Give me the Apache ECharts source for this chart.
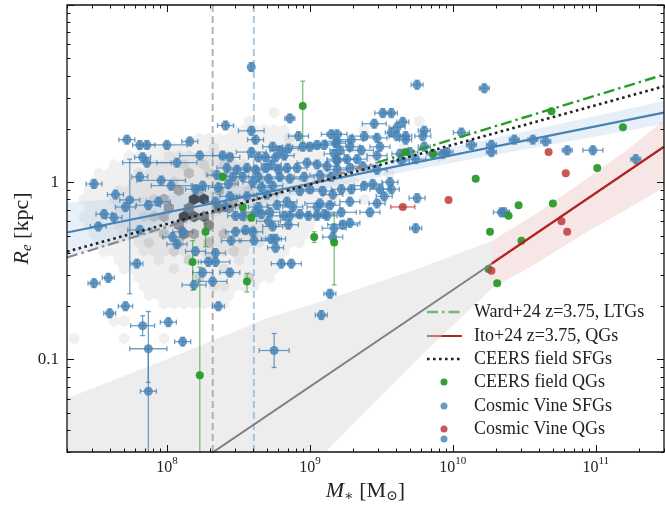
<!DOCTYPE html>
<html><head><meta charset="utf-8">
<script src="https://cdn.jsdelivr.net/npm/echarts@6.0.0/dist/echarts.min.js"></script>
<style>html,body{margin:0;padding:0;background:#fff;}#chart{width:665px;height:506px;}</style>
</head><body><div id="chart"></div>
<script>
const SERIF = '"Liberation Serif", "DejaVu Serif", serif';
// axis limits and tick labels
const xRange = [2e7, 3e11];
const yRange = [0.03, 10];
const xTickExponents = [8, 9, 10, 11];
const yTickLabels = [[0.1, '0.1'], [1, '1']];

// Cosmic Vine SFGs: [log M*, log Re, xErr(dex), yErrLo, yErrHi]
const blueSFG = [
[8.59,0.65,0],[8.86,0.36,0.035],[8.41,0.32,0.056],[8.59,0.29,0.09],[8.62,0.24,0.056],[8.92,0.26,0.07],[9.15,0.27,0.07],
[7.72,0.24,0.056],[7.81,0.21,0.05],[7.86,0.21,0.056],[8.0,0.21,0.14],[8.16,0.23,0.056],[7.83,0.14,0.056],[7.86,0.11,0.17],
[8.07,0.11,0.14],[8.23,0.15,0.14],[7.49,-0.01,0.056],[7.64,-0.07,0.056],[7.81,0.03,0.056],[7.96,0.01,0.17],
[7.74,-0.10,0.07,0.53,0.23],[7.71,-0.14,0.07],[7.87,-0.13,0.084],[7.94,-0.11,0.084],[8.03,-0.02,0.14],[7.56,-0.18,0.056],
[7.63,-0.20,0.056],[7.52,-0.25,0.056],[7.81,-0.27,0.084],[8.04,-0.31,0.07],[8.11,-0.28,0.07],[8.07,-0.35,0.07],[8.20,-0.39,0.07],
[8.29,-0.45,0.07],[7.79,-0.46,0.042],[7.59,-0.54,0.042],[7.49,-0.57,0.042],[7.71,-0.70,0.05],[7.60,-0.74,0.042],
[7.83,-0.81,0.084,0.056,0.056],[7.87,-0.94,0.13,0.19,0.21],[7.87,-1.18,0.056,0.4,0.24],[8.01,-0.79,0.056],[8.11,-0.90,0.056],
[8.19,-0.58,0.084],[8.25,-0.51,0.07],[8.34,-0.45,0.1],[8.32,-0.56,0.1],[8.34,-0.40,0.07],[8.44,-0.51,0.07],[8.36,-0.70,0.042],
[8.80,-0.46,0.07],[8.87,-0.46,0.07],[8.75,-0.95,0.105,0.096,0.096],[9.08,-0.75,0.042],[9.14,-0.63,0.042],[8.45,-0.33,0.07],
[8.61,-0.33,0.105],[8.73,-0.32,0.07],[8.76,-0.32,0.07],[8.76,-0.37,0.056],[8.48,-0.28,0.07],[8.55,-0.27,0.07],[8.60,-0.28,0.07],
[8.71,-0.22,0.084],[8.74,-0.25,0.07],[8.85,-0.24,0.07],[8.82,-0.19,0.084],[8.99,-0.19,0.07],[9.12,-0.19,0.07],[9.07,-0.12,0.105],
[9.17,-0.26,0.084],[8.34,-0.11,0.07],[8.41,-0.14,0.07],[8.48,-0.19,0.056],[8.53,-0.19,0.056],[8.64,-0.14,0.07],[8.66,-0.18,0.07],
[8.59,0.17,0.105],[8.74,0.20,0.07],[8.79,0.18,0.07],[8.85,0.19,0.07],[8.95,0.20,0.07],[9.00,0.20,0.07],[9.05,0.21,0.07],
[9.10,0.21,0.07],[9.18,0.22,0.07],[8.39,0.15,0.07],[8.44,0.14,0.07],[8.64,0.14,0.07],[8.69,0.14,0.07],[8.76,0.14,0.07],
[8.82,0.15,0.07],[8.42,0.08,0.07],[8.49,0.07,0.07],[8.56,0.08,0.07],[8.62,0.07,0.07],[8.69,0.08,0.07],[8.73,0.10,0.07],
[8.78,0.07,0.07],[8.84,0.08,0.07],[8.91,0.08,0.07],[8.98,0.11,0.07],[9.05,0.10,0.07],[9.12,0.09,0.07],[9.19,0.12,0.07],
[8.35,0.04,0.07],[8.46,0.03,0.07],[8.53,0.03,0.07],[8.64,0.03,0.07],[8.71,0.02,0.07],[8.79,0.03,0.07],[8.86,0.02,0.07],
[8.96,0.03,0.07],[9.07,0.04,0.07],[9.15,0.03,0.07],[8.20,-0.04,0.07],[8.25,-0.02,0.07],[8.36,-0.03,0.07],[8.43,-0.01,0.07],
[8.60,0.00,0.07],[8.66,-0.03,0.07],[8.74,-0.02,0.07],[8.93,-0.05,0.07],[9.00,-0.04,0.07],[9.09,-0.05,0.07],[9.16,-0.07,0.07],
[8.44,-0.08,0.07],[8.56,-0.08,0.07],[8.70,-0.07,0.07],[8.77,-0.13,0.07],[8.84,-0.11,0.07],[9.05,-0.14,0.07],[9.14,-0.13,0.07],
[8.88,-0.14,0.07],[8.72,-0.17,0.07],[8.62,-0.17,0.07],[8.86,-0.19,0.07],[8.93,-0.18,0.07],[9.05,-0.19,0.07],[9.10,-0.18,0.07],
[9.75,0.55,0.042],[9.51,0.39,0.056],[9.57,0.39,0.042],[9.65,0.34,0.042],[9.61,0.31,0.056],[9.57,0.28,0.042],[9.45,0.33,0.084],
[9.80,0.29,0.042],[9.79,0.26,0.056],[9.67,0.26,0.042],[9.67,0.24,0.042],[9.61,0.26,0.056],[9.47,0.25,0.07],[9.38,0.26,0.084],
[9.29,0.24,0.084],[9.19,0.23,0.084],[9.19,0.27,0.07],[9.49,0.20,0.07],[9.36,0.18,0.084],[9.28,0.20,0.07],[9.21,0.18,0.07],
[9.33,0.13,0.07],[9.26,0.13,0.07],[9.19,0.13,0.07],[9.17,0.16,0.07],[9.47,0.15,0.07],[9.63,0.16,0.056],[9.70,0.17,0.056],
[9.80,0.20,0.042],[9.86,0.16,0.042],[9.93,0.16,0.042],[9.96,0.17,0.042],[10.06,0.28,0.056],[9.74,0.13,0.07],[9.64,0.12,0.056],
[9.47,0.07,0.07],[9.37,0.09,0.07],[9.28,0.08,0.07],[9.19,0.07,0.07],[9.44,-0.01,0.07],[9.38,-0.02,0.07],[9.29,-0.04,0.07],
[9.22,-0.04,0.07],[9.49,-0.04,0.07],[9.57,-0.04,0.056],[9.56,0.00,0.056],[9.52,-0.08,0.056],[9.47,-0.12,0.056],[9.42,-0.17,0.07],
[9.22,-0.17,0.105],[9.23,-0.24,0.105],[9.28,-0.23,0.07],[9.75,-0.09,0.056],[9.74,-0.26,0.042],[9.28,-0.11,0.07],[9.16,-0.31,0.07],
[10.22,0.53,0.035],[10.13,0.21,0.035],[10.27,0.21,0.035],[10.27,0.17,0.035],[10.43,0.24,0.035],[10.56,0.24,0.035],
[10.65,0.23,0.035],[10.80,0.18,0.035],[10.98,0.18,0.07],[11.28,0.13,0.035],[10.34,-0.17,0.056],[10.36,-0.17,0.035]
];
const blueDefaultYErr = 0.025;

// CEERS field QGs: [log M*, log Re, yErrLo, yErrHi]
const greenQG = [
[8.95,0.43,0.21,0.14],[8.39,0.03,0.02,0.02],[8.59,-0.20,0.02,0.02],[8.27,-0.28,0.085,0.045],[8.18,-0.45,0.16,0.12],
[8.56,-0.56,0.06,0.045],[9.03,-0.31,0.03,0.03],[9.17,-0.34,0.24,0.16],[8.23,-1.09,0.6,0.61],[8.53,-0.14,0.02,0.02],
[9.67,0.17,0,0],[9.86,0.16,0,0],[10.69,0.40,0,0],[11.19,0.31,0,0],[11.01,0.08,0,0],[10.16,0.02,0,0],[10.46,-0.13,0,0],
[10.39,-0.19,0,0],[10.70,-0.12,0,0],[10.26,-0.28,0,0],[10.48,-0.33,0,0],[10.31,-0.57,0,0],[10.25,-0.49,0,0]
];
// Cosmic Vine QGs: [log M*, log Re, xErr]
const redQG = [
[10.67,0.17,0],[10.79,0.05,0],[9.97,-0.10,0],[9.65,-0.14,0.084],[10.76,-0.22,0],[10.80,-0.28,0],[10.27,-0.50,0]
];
// CEERS field SFG density (hexbin): individual cells [log M*, log Re, grey level 1-9]
const hexCells = [
[8.22,-0.11,9],[8.29,-0.09,9],[8.10,-0.19,9],[8.18,-0.21,8],[8.15,-0.14,7],[8.36,-0.14,7],[8.43,-0.17,6],[8.02,-0.13,6],
[8.06,-0.24,6],[8.25,-0.18,7],[8.32,-0.24,6],[8.13,-0.27,6],[8.22,-0.30,5],[7.99,-0.20,5],[7.95,-0.10,5],[8.07,-0.06,5],
[8.20,-0.04,5],[8.34,-0.03,5],[8.48,-0.09,5],[8.51,-0.18,4],[8.41,-0.30,4],[8.27,-0.35,4],[8.09,-0.35,4],[7.99,-0.30,4],
[7.92,-0.18,4],[7.88,-0.09,3],[8.02,0.00,3],[8.16,0.03,4],[8.30,0.04,3],[8.44,0.00,4],[8.58,-0.07,3],[8.58,-0.27,3],
[8.44,-0.38,3],[8.30,-0.43,3],[8.16,-0.43,3],[8.02,-0.38,3],[7.88,-0.32,3],[7.81,-0.22,3],[7.78,-0.10,2],[7.95,-0.01,2],
[8.09,0.08,3],[8.23,0.10,3],[8.37,0.10,3],[8.51,0.07,2],[8.65,0.02,2],[8.69,-0.18,2],[8.65,-0.35,2],[8.51,-0.45,2],
[8.37,-0.49,2],[8.20,-0.52,2],[8.06,-0.49,2],[7.92,-0.44,2],[7.81,-0.38,2],[7.71,-0.30,2],[7.68,-0.15,2],[7.71,-0.04,1],
[7.85,0.04,1],[7.99,0.13,2],[8.13,0.17,2],[8.30,0.18,2],[8.48,0.16,1],[8.62,0.13,1],[8.76,0.07,1],[8.79,-0.07,2],
[8.82,-0.27,1],[8.76,-0.41,1],[8.65,-0.52,1],[8.51,-0.58,1],[8.30,-0.61,2],[8.13,-0.61,1],[7.95,-0.56,1],[7.85,-0.52,1],
[7.57,-0.38,1],[7.54,-0.24,1],[7.57,-0.10,1],[7.61,0.02,1],[8.86,0.13,1],[8.93,0.24,1],[8.72,0.24,1],[8.76,0.37,1],
[8.55,0.33,1],[9.00,0.02,1],[9.07,-0.10,1],[9.21,-0.04,1],[9.35,-0.10,1],[9.28,0.18,1],[9.42,0.13,1],[9.37,0.27,1],
[9.75,0.34,1],[9.68,0.20,1],[9.90,0.16,1],[9.59,0.07,1],[7.91,-0.62,1],[7.97,-0.69,1],[7.70,-0.88,1],[8.00,-0.88,1],
[7.36,-0.89,1],[8.56,-0.55,3],[8.41,-0.57,2],[8.39,-0.66,1],[8.25,-0.55,3],[8.88,0.26,2]
];
// hexbin faint cloud, row runs: [log Re, log M* from, log M* to, grey level]
const hexRuns = [
[0.30,8.45,8.8,1],[0.25,8.2,8.95,1],[0.20,7.9,9.0,1],[0.15,7.75,9.1,1],[0.15,8.05,8.45,2],[0.10,7.65,9.2,1],[0.10,7.9,8.55,2],
[0.05,7.55,9.3,1],[0.05,7.8,8.65,2],[0.0,7.5,9.3,1],[0.0,7.75,8.7,2],[-0.05,7.45,9.3,1],[-0.05,7.7,8.75,2],[-0.10,7.45,9.2,1],
[-0.10,7.65,8.75,2],[-0.15,7.45,9.1,1],[-0.15,7.65,8.75,2],[-0.20,7.45,9.0,1],[-0.20,7.7,8.7,2],[-0.25,7.45,9.0,1],
[-0.25,7.7,8.7,2],[-0.30,7.5,8.95,1],[-0.30,7.75,8.65,2],[-0.35,7.55,8.9,1],[-0.35,7.8,8.6,2],[-0.40,7.6,8.85,1],
[-0.40,7.85,8.55,2],[-0.45,7.65,8.8,1],[-0.50,7.7,8.75,1],[-0.55,7.8,8.7,1],[-0.60,7.85,8.6,1],[-0.65,7.95,8.45,1],
[-0.70,7.95,8.4,1],[-0.80,7.6,7.7,1]
];
// relations [log M*, log Re]
const cvSfgFit = [[7.301,-0.284],[11.477,0.393]];
const cvSfgBandLogM = [7.301, 8.0, 8.7, 9.4, 10.1, 10.8, 11.477];
const cvSfgBandLo = [-0.42,-0.27,-0.11,0.016,0.125,0.228,0.328];
const cvSfgBandHi = [-0.115,-0.075,-0.004,0.096,0.215,0.338,0.458];
const ceersSfgFit = [[7.301,-0.392],[11.477,0.541]];
const wardExtrap = [[7.301,-0.425],[9.474,0.112]];
const wardFit = [[9.474,0.112],[11.477,0.607]];
const itoExtrap = [[8.2,-1.591],[10.273,-0.459]];
const itoFit = [[10.273,-0.459],[11.477,0.2]];
const itoExtrapBandLogM = [7.301, 8.0, 8.7, 9.14, 9.77, 10.273];
const itoExtrapBandHi = [-1.22,-1.0,-0.768,-0.658,-0.484,-0.33];
const itoExtrapBandLo = [-2.94,-2.4,-1.868,-1.498,-0.984,-0.60];
const itoBandLogM = [10.273,10.6,10.9,11.2,11.477];
const itoBandHi = [-0.33,-0.17,0.0,0.17,0.35];
const itoBandLo = [-0.60,-0.45,-0.30,-0.16,-0.03];
const massLimitCeers = 8.32;
const massLimitVine = 8.608;

const P = v => Math.pow(10, v);
const BLUE = '#4682b4', GREEN = '#2a9a2a', RED = '#c0393b';
const hexGreys = ['#f0f0f0','#e2e2e2','#d0d0d0','#bbbbbb','#a2a2a2','#858585','#646464','#424242','#1c1c1c'];

const HEX_W = 0.07, HEX_ROW = 0.049, HEX_R = 0.0327;
function snapHex(cells, runs) {
  const map = new Map();
  const put = (m, r, l) => {
    const j = Math.round(r / HEX_ROW);
    const off = (Math.abs(j) % 2) * HEX_W / 2;
    const i = Math.round((m - off) / HEX_W);
    const key = i + ',' + j;
    const prev = map.get(key);
    if (!prev || prev[2] < l) map.set(key, [i * HEX_W + off, j * HEX_ROW, l]);
  };
  runs.forEach(([r, m0, m1, l]) => {
    const j = Math.round(r / HEX_ROW);
    const off = (Math.abs(j) % 2) * HEX_W / 2;
    for (let i = Math.round((m0 - off) / HEX_W); i <= Math.round((m1 - off) / HEX_W); i++) put(i * HEX_W + off, j * HEX_ROW, l);
  });
  cells.forEach(([m, r, l]) => put(m, r, l));
  return [...map.values()];
}
const hexData = snapHex(hexCells, hexRuns);

function bandSeries(logM, lo, hi, color, z) {
  return {
    type: 'custom', z, clip: true, silent: true, data: [[1e9, 1]],
    renderItem: (params, api) => {
      const pts = [];
      logM.forEach((m, i) => pts.push(api.coord([P(m), P(hi[i])])));
      for (let i = logM.length - 1; i >= 0; i--) pts.push(api.coord([P(logM[i]), P(lo[i])]));
      return { type: 'polygon', shape: { points: pts }, style: { fill: color } };
    }
  };
}
function lineSeries(pts, color, width, dash, z) {
  return {
    type: 'line', z, silent: true, symbol: 'none', clip: true, animation: false,
    data: pts.map(p => [P(p[0]), P(p[1])]),
    lineStyle: { color, width, type: dash || 'solid', cap: 'butt' }
  };
}
function errSeries(arr, getErr, color, z) {
  return {
    type: 'custom', z, clip: true, silent: true,
    data: arr.map(d => [P(d[0]), P(d[1])]),
    renderItem: (params, api) => {
      const d = arr[params.dataIndex];
      const e = getErr(d);
      const c = api.coord([P(d[0]), P(d[1])]);
      const ch = [];
      const st = { stroke: color, lineWidth: 1.3 };
      const cap = 2.5;
      if (e.x > 0) {
        const xl = api.coord([P(d[0] - e.x), P(d[1])])[0];
        const xr = api.coord([P(d[0] + e.x), P(d[1])])[0];
        ch.push({ type: 'line', shape: { x1: xl, y1: c[1], x2: xr, y2: c[1] }, style: st });
        ch.push({ type: 'line', shape: { x1: xl, y1: c[1] - cap, x2: xl, y2: c[1] + cap }, style: st });
        ch.push({ type: 'line', shape: { x1: xr, y1: c[1] - cap, x2: xr, y2: c[1] + cap }, style: st });
      }
      if (e.lo > 0 || e.hi > 0) {
        const yb = api.coord([P(d[0]), P(d[1] - e.lo)])[1];
        const yt = api.coord([P(d[0]), P(d[1] + e.hi)])[1];
        ch.push({ type: 'line', shape: { x1: c[0], y1: yb, x2: c[0], y2: yt }, style: st });
        ch.push({ type: 'line', shape: { x1: c[0] - cap, y1: yb, x2: c[0] + cap, y2: yb }, style: st });
        ch.push({ type: 'line', shape: { x1: c[0] - cap, y1: yt, x2: c[0] + cap, y2: yt }, style: st });
      }
      return { type: 'group', children: ch };
    }
  };
}
function isPow(v, e) { return Math.abs(Math.log10(v) - e) < 1e-6; }

const chart = echarts.init(document.getElementById('chart'), null, { renderer: 'canvas' });
const option = {
  animation: false,
  backgroundColor: '#fff',
  grid: { left: 67, right: 1, top: 5, bottom: 54, show: false },
  xAxis: {
    type: 'log', logBase: 10, min: xRange[0], max: xRange[1],
    axisLine: { show: false }, axisTick: { show: false }, splitLine: { show: false },
    axisLabel: {
      margin: 4, showMinLabel: false, showMaxLabel: false,
      formatter: v => { for (const e of xTickExponents) if (isPow(v, e)) return '{b|10}{s|' + e + '}'; return ''; },
      rich: {
        b: { fontSize: 16, fontFamily: SERIF, color: '#222', padding: [4, 0, 0, 0], verticalAlign: 'bottom' },
        s: { fontSize: 11, fontFamily: SERIF, color: '#222', verticalAlign: 'top' }
      }
    }
  },
  yAxis: {
    type: 'log', logBase: 10, min: yRange[0], max: yRange[1],
    axisLine: { show: false }, axisTick: { show: false }, splitLine: { show: false },
    axisLabel: {
      margin: 8, showMinLabel: false, showMaxLabel: false,
      fontSize: 17, fontFamily: SERIF, color: '#222',
      formatter: v => { for (const [val, t] of yTickLabels) if (isPow(v, Math.log10(val))) return t; return ''; }
    }
  },
  series: [
    {
      type: 'custom', z: 1, clip: true, silent: true,
      data: hexData.map(h => [P(h[0]), P(h[1]), h[2]]),
      renderItem: (params, api) => {
        const h = hexData[params.dataIndex];
        const offs = [[0, HEX_R], [HEX_W / 2, HEX_R / 2], [HEX_W / 2, -HEX_R / 2], [0, -HEX_R], [-HEX_W / 2, -HEX_R / 2], [-HEX_W / 2, HEX_R / 2]];
        const pts = offs.map(o => api.coord([P(h[0] + o[0]), P(h[1] + o[1])]));
        return { type: 'polygon', shape: { points: pts }, style: { fill: hexGreys[h[2] - 1], stroke: hexGreys[h[2] - 1], lineWidth: 0.5 } };
      }
    },
    bandSeries(itoExtrapBandLogM, itoExtrapBandLo, itoExtrapBandHi, 'rgba(215,215,215,0.45)', 2),
    bandSeries(itoBandLogM, itoBandLo, itoBandHi, 'rgba(220,140,140,0.22)', 2),
    bandSeries(cvSfgBandLogM, cvSfgBandLo, cvSfgBandHi, 'rgba(170,200,230,0.28)', 2),
    lineSeries([[massLimitCeers, Math.log10(yRange[0])], [massLimitCeers, Math.log10(yRange[1])]], 'rgba(150,150,150,0.7)', 2, [7, 4], 3),
    lineSeries([[massLimitVine, Math.log10(yRange[0])], [massLimitVine, Math.log10(yRange[1])]], 'rgba(140,180,215,0.75)', 2, [7, 4], 3),
    errSeries(blueSFG, d => ({ x: d[2], lo: d.length > 3 ? d[3] : blueDefaultYErr, hi: d.length > 4 ? d[4] : blueDefaultYErr }), 'rgba(70,130,180,0.75)', 4),
    errSeries(greenQG, d => ({ x: 0, lo: d[2], hi: d[3] }), 'rgba(42,154,42,0.6)', 4),
    errSeries(redQG, d => ({ x: d[2], lo: 0, hi: 0 }), 'rgba(192,57,59,0.75)', 4),
    { type: 'scatter', z: 5, silent: true, symbolSize: 9, data: blueSFG.map(d => [P(d[0]), P(d[1])]), itemStyle: { color: BLUE, opacity: 0.82 } },
    { type: 'scatter', z: 5, silent: true, symbolSize: 8, data: greenQG.map(d => [P(d[0]), P(d[1])]), itemStyle: { color: GREEN, opacity: 0.95 } },
    { type: 'scatter', z: 5, silent: true, symbolSize: 8, data: redQG.map(d => [P(d[0]), P(d[1])]), itemStyle: { color: RED, opacity: 0.85 } },
    lineSeries(itoExtrap, '#808080', 2, 'solid', 6),
    lineSeries(itoFit, '#b22222', 2.2, 'solid', 6),
    lineSeries(cvSfgFit, BLUE, 2.2, 'solid', 6),
    lineSeries(wardExtrap, '#8a8a8a', 2.2, [11, 4, 2.5, 4], 6),
    lineSeries(wardFit, GREEN, 2.4, [11, 4, 2.5, 4], 6),
    lineSeries(ceersSfgFit, '#222', 2.6, [2.6, 3.4], 7),
    {
      type: 'custom', z: 20, clip: false, silent: true, data: [[1e9, 1]],
      renderItem: (params, api) => {
        const cs = params.coordSys;
        const ch = [];
        const st = { stroke: '#111', lineWidth: 1 };
        const L = (x1, y1, x2, y2) => ch.push({ type: 'line', shape: { x1, y1, x2, y2 }, style: st });
        const x0 = cs.x, x1 = cs.x + cs.width, y0 = cs.y, y1 = cs.y + cs.height;
        for (let n = 7; n <= 11; n++) for (let k = 1; k <= 9; k++) {
          const v = k * Math.pow(10, n);
          if (v < xRange[0] || v > xRange[1]) continue;
          const x = Math.round(api.coord([v, 1])[0]) + 0.5;
          const len = k === 1 ? 7 : 3.5;
          L(x, y1, x, y1 - len); L(x, y0, x, y0 + len);
        }
        for (let n = -2; n <= 1; n++) for (let k = 1; k <= 9; k++) {
          const v = k * Math.pow(10, n);
          if (v < yRange[0] || v > yRange[1]) continue;
          const y = Math.round(api.coord([1e9, v])[1]) + 0.5;
          const len = k === 1 ? 7 : 3.5;
          L(x0, y, x0 + len, y); L(x1, y, x1 - len, y);
        }
        ch.push({ type: 'rect', shape: { x: x0, y: y0, width: cs.width, height: cs.height }, style: { fill: null, stroke: '#111', lineWidth: 1.3 } });
        return { type: 'group', children: ch };
      }
    }
  ],
  graphic: [
    { type: 'text', x: 365.5, y: 491, z: 50,
      style: { text: '{i|M}{sb|∗} [M{sb|⊙}]', fontSize: 22, fontFamily: SERIF, fill: '#222', textAlign: 'center', textVerticalAlign: 'middle',
        rich: { i: { fontSize: 22, fontFamily: SERIF, fontStyle: 'italic', fill: '#222' }, sb: { fontSize: 14, fontFamily: SERIF, fill: '#222', verticalAlign: 'bottom', padding: [10, 0, 0, 0] } } } },
    { type: 'text', x: 22, y: 228.5, rotation: Math.PI / 2, z: 50,
      style: { text: '{i|R}{sb|e} [kpc]', fontSize: 22, fontFamily: SERIF, fill: '#222', textAlign: 'center', textVerticalAlign: 'middle',
        rich: { i: { fontSize: 22, fontFamily: SERIF, fontStyle: 'italic', fill: '#222' }, sb: { fontSize: 15, fontFamily: SERIF, fontStyle: 'italic', fill: '#222', verticalAlign: 'bottom', padding: [10, 0, 0, 0] } } } },
    { type: 'group', z: 50, children: [
      { type: 'line', shape: { x1: 427, y1: 312, x2: 462, y2: 312 }, style: { stroke: GREEN, lineWidth: 2.4, lineDash: [11, 4, 2.5, 4] } },
      { type: 'line', shape: { x1: 427, y1: 336, x2: 462, y2: 336 }, style: { stroke: '#b22222', lineWidth: 2.2 } },
      { type: 'line', shape: { x1: 427, y1: 359, x2: 462, y2: 359 }, style: { stroke: '#222', lineWidth: 2.6, lineDash: [2.6, 3.4] } },
      { type: 'circle', shape: { cx: 444, cy: 382, r: 3.5 }, style: { fill: GREEN, opacity: 0.95 } },
      { type: 'circle', shape: { cx: 444, cy: 406, r: 3.5 }, style: { fill: BLUE, opacity: 0.82 } },
      { type: 'circle', shape: { cx: 444, cy: 429, r: 3.5 }, style: { fill: RED, opacity: 0.85 } },
      { type: 'circle', shape: { cx: 444, cy: 439, r: 3.5 }, style: { fill: BLUE, opacity: 0.82 } },
      { type: 'text', x: 474, y: 312, style: { text: 'Ward+24 z=3.75, LTGs', fontSize: 18, fontFamily: SERIF, fill: '#222', textVerticalAlign: 'middle' } },
      { type: 'text', x: 474, y: 336, style: { text: 'Ito+24 z=3.75, QGs', fontSize: 18, fontFamily: SERIF, fill: '#222', textVerticalAlign: 'middle' } },
      { type: 'text', x: 474, y: 359, style: { text: 'CEERS field SFGs', fontSize: 18, fontFamily: SERIF, fill: '#222', textVerticalAlign: 'middle' } },
      { type: 'text', x: 474, y: 382, style: { text: 'CEERS field QGs', fontSize: 18, fontFamily: SERIF, fill: '#222', textVerticalAlign: 'middle' } },
      { type: 'text', x: 474, y: 406, style: { text: 'Cosmic Vine SFGs', fontSize: 18, fontFamily: SERIF, fill: '#222', textVerticalAlign: 'middle' } },
      { type: 'text', x: 474, y: 429, style: { text: 'Cosmic Vine QGs', fontSize: 18, fontFamily: SERIF, fill: '#222', textVerticalAlign: 'middle' } }
    ] }
  ]
};
chart.setOption(option);
</script>
</body></html>
